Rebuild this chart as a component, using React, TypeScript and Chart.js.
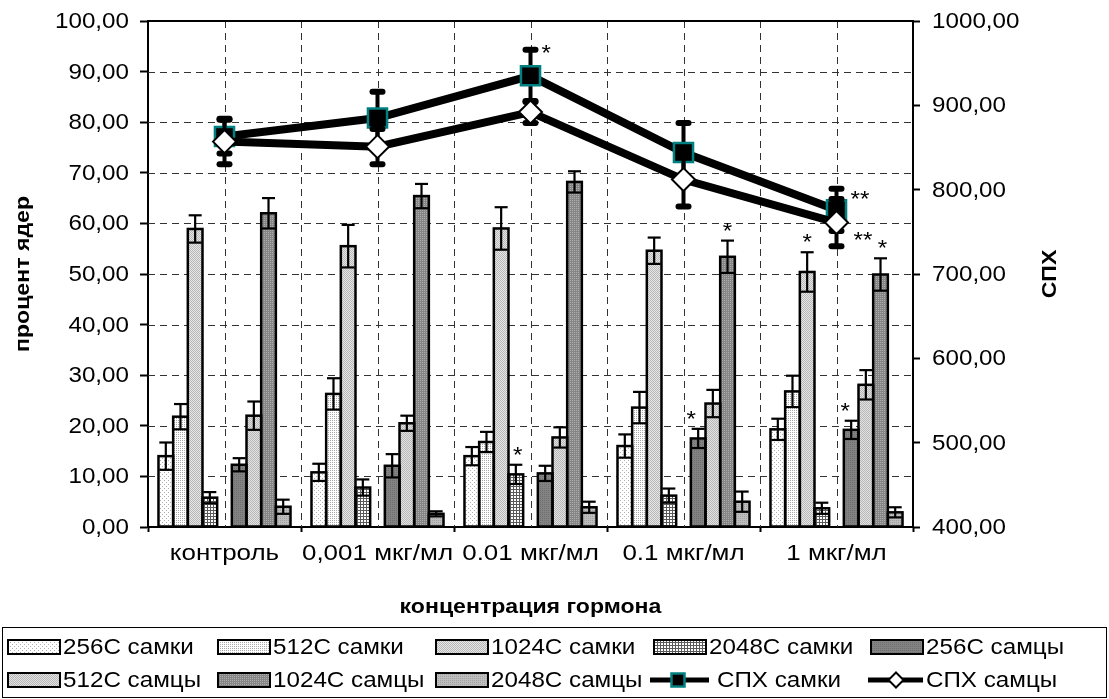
import React, { useEffect, useRef } from 'react';
import { Chart, registerables } from 'chart.js';

Chart.register(...registerables);

// ---------- data ----------
const categories = ['контроль', '0,001 мкг/мл', '0.01 мкг/мл', '0.1 мкг/мл', '1 мкг/мл'];

const barLabels = [
  '256C самки', '512C самки', '1024C самки', '2048C самки',
  '256C самцы', '512C самцы', '1024C самцы', '2048C самцы',
];

const f256 = [14.0, 10.8, 14.0, 16.0, 19.3];
const f256Err = [2.7, 1.7, 1.8, 2.3, 2.1];
const f512 = [21.8, 26.3, 16.8, 23.6, 26.8];
const f512Err = [2.5, 3.1, 2.0, 3.1, 3.1];
const f1024 = [58.9, 55.5, 59.0, 54.6, 50.4];
const f1024Err = [2.7, 4.2, 4.2, 2.6, 3.9];
const f2048 = [5.8, 7.8, 10.4, 6.2, 3.7];
const f2048Err = [1.1, 1.6, 1.9, 1.4, 1.1];
const m256 = [12.3, 12.1, 10.6, 17.5, 19.2];
const m256Err = [1.3, 2.3, 1.5, 1.9, 1.8];
const m512 = [22.0, 20.5, 17.7, 24.4, 28.1];
const m512Err = [2.8, 1.5, 2.0, 2.7, 2.9];
const m1024 = [62.0, 65.4, 68.2, 53.4, 49.9];
const m1024Err = [3.0, 2.4, 2.1, 3.2, 3.2];
const m2048 = [4.0, 2.6, 3.9, 5.0, 2.9];
const m2048Err = [1.4, 0.5, 1.1, 2.0, 1.0];

const lineLabels = ['СПХ самки', 'СПХ самцы'];
const sphF = [863, 885, 935, 844, 776];
const sphFErr = [20, 31, 31, 35, 25];
const sphM = [857, 851, 892, 812, 761];
const sphMErr = [27, 21, 13, 32, 28];

const leftTicks = [0, 10, 20, 30, 40, 50, 60, 70, 80, 90, 100];
const rightTicks = [400, 500, 600, 700, 800, 900, 1000];

const xTitle = 'концентрация гормона';
const yTitle = 'процент ядер';
const y1Title = 'СПХ';

// significance marks: bar series index / category index
const barStars = [
  { series: 3, cat: 2, text: '*', dx: 2 },
  { series: 4, cat: 3, text: '*', dx: -7 },
  { series: 6, cat: 3, text: '*', dx: 0 },
  { series: 2, cat: 4, text: '*', dx: 0 },
  { series: 4, cat: 4, text: '*', dx: -6 },
  { series: 6, cat: 4, text: '*', dx: 2 },
];
const lineStars = [
  { line: 0, cat: 2, text: '*', anchor: 'top', dx: 11, dy: -2 },
  { line: 0, cat: 4, text: '**', anchor: 'top', dx: 14, dy: 5 },
  { line: 1, cat: 4, text: '**', anchor: 'bottom', dx: 17, dy: -11 },
];

// ---------- styles ----------
const FONT = '"Liberation Sans", Arial, Helvetica, sans-serif';
const FS = 22;
const SX = 1.1;

const patternSpecs = [
  { bg: '#ffffff', fg: '#b0b0b0', size: 4, px: [[0, 0], [2, 2]] },
  { bg: '#ffffff', fg: '#a8a8a8', size: 2, px: [[0, 0]] },
  { bg: '#e6e6e6', fg: '#b8b8b8', size: 2, px: [[0, 0], [1, 1]] },
  { bg: '#ffffff', fg: '#5a5a5a', size: 3, px: [[0, 0], [1, 0], [2, 0], [0, 1], [0, 2]] },
  { bg: '#838383', fg: '#6e6e6e', size: 2, px: [[0, 0]] },
  { bg: '#e2e2e2', fg: '#b8b8b8', size: 2, px: [[0, 0], [1, 1]] },
  { bg: '#868686', fg: '#adadad', size: 2, px: [[0, 0]] },
  { bg: '#bdbdbd', fg: '#a2a2a2', size: 2, px: [[0, 0]] },
];

const barValues = [f256, f512, f1024, f2048, m256, m512, m1024, m2048];
const barErrors = [f256Err, f512Err, f1024Err, f2048Err, m256Err, m512Err, m1024Err, m2048Err];
const lineValues = [sphF, sphM];
const lineErrors = [sphFErr, sphMErr];

const dsIndexOfBar = (s: number) => (s < 4 ? s : s + 1);
const LINE_DS0 = 9;

function makePattern(ctx: CanvasRenderingContext2D, spec: any): CanvasPattern {
  const c = document.createElement('canvas');
  c.width = spec.size;
  c.height = spec.size;
  const g = c.getContext('2d')!;
  g.fillStyle = spec.bg;
  g.fillRect(0, 0, spec.size, spec.size);
  g.fillStyle = spec.fg;
  for (const [x, y] of spec.px) g.fillRect(x, y, 1, 1);
  return ctx.createPattern(c, 'repeat')!;
}

function drawText(
  ctx: CanvasRenderingContext2D,
  s: string,
  x: number,
  y: number,
  o: { align?: CanvasTextAlign; bold?: boolean; size?: number; rot?: number; baseline?: CanvasTextBaseline; sx?: number } = {}
) {
  ctx.save();
  ctx.translate(x, y);
  if (o.rot) ctx.rotate(o.rot);
  ctx.scale(o.sx ?? SX, 1);
  ctx.font = `${o.bold ? 'bold ' : ''}${o.size ?? FS}px ${FONT}`;
  ctx.textAlign = o.align ?? 'left';
  ctx.textBaseline = o.baseline ?? 'middle';
  ctx.fillStyle = '#000';
  ctx.fillText(s, 0, 0);
  ctx.restore();
}

function fmt(v: number) {
  return v.toFixed(2).replace('.', ',');
}

function line(ctx: CanvasRenderingContext2D, x1: number, y1: number, x2: number, y2: number) {
  ctx.beginPath();
  ctx.moveTo(x1, y1);
  ctx.lineTo(x2, y2);
  ctx.stroke();
}

function drawSquare(ctx: CanvasRenderingContext2D, x: number, y: number, half: number) {
  ctx.save();
  ctx.fillStyle = '#000';
  ctx.strokeStyle = '#008080';
  ctx.lineWidth = 2.5;
  ctx.fillRect(x - half, y - half, half * 2, half * 2);
  ctx.strokeRect(x - half, y - half, half * 2, half * 2);
  ctx.restore();
}

function drawDiamond(ctx: CanvasRenderingContext2D, x: number, y: number, r: number) {
  ctx.save();
  ctx.fillStyle = '#fff';
  ctx.strokeStyle = '#000';
  ctx.lineWidth = 2;
  ctx.beginPath();
  ctx.moveTo(x, y - r);
  ctx.lineTo(x + r, y);
  ctx.lineTo(x, y + r);
  ctx.lineTo(x - r, y);
  ctx.closePath();
  ctx.fill();
  ctx.stroke();
  ctx.restore();
}

export default function App() {
  const ref = useRef<HTMLCanvasElement>(null);

  useEffect(() => {
    const canvas = ref.current!;
    const c2d = canvas.getContext('2d')!;
    const pats = patternSpecs.map((p) => makePattern(c2d, p));

    const drawBarOverlay = (chart: any) => {
      const ctx: CanvasRenderingContext2D = chart.ctx;
      const yS = chart.scales.y;
      ctx.save();
      ctx.setLineDash([]);
      ctx.strokeStyle = '#000';
      ctx.lineWidth = 2.5;
      barValues.forEach((_, s) => {
        const meta = chart.getDatasetMeta(dsIndexOfBar(s));
        meta.data.forEach((el: any) => {
          const w = el.width;
          ctx.strokeRect(el.x - w / 2, el.y, w, el.base - el.y);
        });
      });
      ctx.lineWidth = 2.2;
      ctx.lineCap = 'butt';
      barValues.forEach((vals, s) => {
        const meta = chart.getDatasetMeta(dsIndexOfBar(s));
        meta.data.forEach((el: any, j: number) => {
          const hi = yS.getPixelForValue(vals[j] + barErrors[s][j]);
          const lo = yS.getPixelForValue(vals[j] - barErrors[s][j]);
          const x = el.x;
          line(ctx, x, hi, x, lo);
          line(ctx, x - 6.5, hi, x + 6.5, hi);
          line(ctx, x - 6.5, lo, x + 6.5, lo);
        });
      });
      ctx.restore();
    };

    const drawLineErr = (chart: any, li: number) => {
      const ctx: CanvasRenderingContext2D = chart.ctx;
      const yS = chart.scales.y1;
      const meta = chart.getDatasetMeta(LINE_DS0 + li);
      ctx.save();
      ctx.setLineDash([]);
      ctx.strokeStyle = '#000';
      ctx.lineCap = 'round';
      meta.data.forEach((el: any, j: number) => {
        const v = lineValues[li][j];
        const e = lineErrors[li][j];
        const hi = yS.getPixelForValue(v + e);
        const lo = yS.getPixelForValue(v - e);
        ctx.lineWidth = 4;
        line(ctx, el.x, hi, el.x, lo);
        ctx.lineWidth = 6;
        line(ctx, el.x - 5, hi, el.x + 5, hi);
        line(ctx, el.x - 5, lo, el.x + 5, lo);
      });
      ctx.restore();
    };

    const plugin = {
      id: 'custom',
      beforeDatasetsDraw(chart: any) {
        const { ctx, chartArea: ca, scales } = chart;
        ctx.save();
        ctx.strokeStyle = '#333';
        ctx.lineWidth = 1;
        ctx.setLineDash([7, 5]);
        leftTicks.forEach((t) => {
          if (t <= 0 || t >= 100) return;
          const y = Math.round(scales.y.getPixelForValue(t)) + 0.5;
          line(ctx, ca.left, y, ca.right, y);
        });
        const xs: number[] = [];
        categories.forEach((_, i) => {
          xs.push(scales.x.getPixelForValue(i));
          if (i < categories.length - 1)
            xs.push((scales.x.getPixelForValue(i) + scales.x.getPixelForValue(i + 1)) / 2);
        });
        xs.forEach((x) => {
          const xx = Math.round(x) + 0.5;
          line(ctx, xx, ca.top, xx, ca.bottom);
        });
        ctx.restore();
      },
      beforeDatasetDraw(chart: any, args: any) {
        if (args.index === LINE_DS0) {
          drawBarOverlay(chart);
          drawLineErr(chart, 0);
        } else if (args.index === LINE_DS0 + 1) {
          drawLineErr(chart, 1);
        }
      },
      afterDraw(chart: any) {
        const { ctx, chartArea: ca, scales } = chart;
        ctx.save();
        ctx.setLineDash([]);
        // top border of plot area
        ctx.strokeStyle = '#000';
        ctx.lineWidth = 2;
        line(ctx, ca.left - 1, ca.top, ca.right + 1, ca.top);

        // tick labels
        leftTicks.forEach((t) => drawText(ctx, fmt(t), 129, scales.y.getPixelForValue(t) + 1, { align: 'right' }));
        rightTicks.forEach((t) => drawText(ctx, fmt(t), 932, scales.y1.getPixelForValue(t) + 1, { align: 'left' }));
        categories.forEach((c, i) =>
          drawText(ctx, c, scales.x.getPixelForValue(i), 554, { align: 'center', sx: 1.18 })
        );

        // axis titles
        drawText(ctx, xTitle, (ca.left + ca.right) / 2, 607, { align: 'center', bold: true, size: 21 });
        drawText(ctx, yTitle, 23, (ca.top + ca.bottom) / 2, { align: 'center', bold: true, size: 21, rot: -Math.PI / 2 });
        drawText(ctx, y1Title, 1050, (ca.top + ca.bottom) / 2, { align: 'center', bold: true, size: 21, rot: -Math.PI / 2 });

        // stars on bars
        barStars.forEach((st) => {
          const el: any = chart.getDatasetMeta(dsIndexOfBar(st.series)).data[st.cat];
          const top = scales.y.getPixelForValue(barValues[st.series][st.cat] + barErrors[st.series][st.cat]);
          drawText(ctx, st.text, el.x + st.dx, top - 15 + 12, { align: 'center', baseline: 'alphabetic' });
        });
        // stars on lines
        lineStars.forEach((st) => {
          const el: any = chart.getDatasetMeta(LINE_DS0 + st.line).data[st.cat];
          const v = lineValues[st.line][st.cat];
          const e = lineErrors[st.line][st.cat];
          const ref = scales.y1.getPixelForValue(st.anchor === 'top' ? v + e : v - e);
          drawText(ctx, st.text, el.x + st.dx, ref + st.dy + 12, { align: 'left', baseline: 'alphabetic' });
        });

        // legend
        ctx.strokeStyle = '#000';
        ctx.lineWidth = 1;
        ctx.strokeRect(2.5, 627.5, 1104, 70);
        const cols = [8, 218, 436, 654, 871];
        const rows = [647, 680];
        const items = [...barLabels, ...lineLabels];
        items.forEach((label, k) => {
          const x = cols[k % 5];
          const y = rows[Math.floor(k / 5)];
          let tx = x + 55;
          if (k < 8) {
            ctx.fillStyle = pats[k];
            ctx.fillRect(x, y - 7, 52, 14);
            ctx.lineWidth = 2;
            ctx.strokeStyle = '#000';
            ctx.strokeRect(x, y - 7, 52, 14);
          } else if (k === 8) {
            ctx.strokeStyle = '#000';
            ctx.lineWidth = 5;
            line(ctx, x - 4, y, x + 55, y);
            drawSquare(ctx, x + 24, y, 6.5);
            tx = x + 63;
          } else {
            ctx.strokeStyle = '#000';
            ctx.lineWidth = 5;
            line(ctx, x - 3, y, x + 52, y);
            drawDiamond(ctx, x + 25, y, 7.5);
          }
          drawText(ctx, label, tx, y + 1, { align: 'left' });
        });
        ctx.restore();
      },
    };

    const datasets: any[] = [];
    barValues.forEach((vals, s) => {
      if (s === 4) {
        datasets.push({
          type: 'bar',
          label: '',
          data: categories.map(() => null),
          backgroundColor: 'rgba(0,0,0,0)',
          borderWidth: 0,
          yAxisID: 'y',
          order: 3,
          categoryPercentage: 0.863,
          barPercentage: 1.0,
        });
      }
      datasets.push({
        type: 'bar',
        label: barLabels[s],
        data: vals,
        backgroundColor: pats[s],
        borderWidth: 0,
        yAxisID: 'y',
        order: 3,
        categoryPercentage: 0.863,
        barPercentage: 1.0,
      });
    });
    datasets.push({
      type: 'line',
      label: lineLabels[0],
      data: sphF,
      yAxisID: 'y1',
      borderColor: '#000',
      borderWidth: 8,
      tension: 0,
      fill: false,
      pointStyle: 'rect',
      pointRadius: 13.5,
      pointBackgroundColor: '#000',
      pointBorderColor: '#008080',
      pointBorderWidth: 2.5,
      order: 2,
    });
    datasets.push({
      type: 'line',
      label: lineLabels[1],
      data: sphM,
      yAxisID: 'y1',
      borderColor: '#000',
      borderWidth: 8,
      tension: 0,
      fill: false,
      pointStyle: 'rectRot',
      pointRadius: 11.5,
      pointBackgroundColor: '#fff',
      pointBorderColor: '#000',
      pointBorderWidth: 2,
      order: 1,
    });

    const chart = new Chart(canvas, {
      type: 'bar',
      data: { labels: categories, datasets },
      options: {
        responsive: false,
        animation: false,
        events: [],
        layout: { padding: { left: 0, right: 0, top: 21, bottom: 0 } },
        plugins: { legend: { display: false }, tooltip: { enabled: false }, title: { display: false } },
        scales: {
          x: {
            type: 'category',
            offset: true,
            grid: { display: true, drawOnChartArea: false, drawTicks: true, tickLength: 5, tickColor: '#000', tickWidth: 2, offset: true },
            border: { display: true, color: '#000', width: 2 },
            ticks: { display: false },
            afterFit: (s: any) => { s.height = 172; },
          },
          y: {
            position: 'left',
            min: 0,
            max: 100,
            ticks: { display: false, stepSize: 10 },
            grid: { display: true, drawOnChartArea: false, drawTicks: true, tickLength: 8, tickColor: '#000', tickWidth: 2 },
            border: { display: true, color: '#000', width: 2 },
            afterFit: (s: any) => { s.width = 148; },
          },
          y1: {
            position: 'right',
            min: 400,
            max: 1000,
            ticks: { display: false, stepSize: 100 },
            grid: { display: true, drawOnChartArea: false, drawTicks: true, tickLength: 7, tickColor: '#000', tickWidth: 2 },
            border: { display: true, color: '#000', width: 2 },
            afterFit: (s: any) => { s.width = 196; },
          },
        },
      } as any,
      plugins: [plugin as any],
    });

    return () => chart.destroy();
  }, []);

  return (
    <div style={{ position: 'absolute', left: 0, top: 0, width: 1109, height: 699, background: '#fff' }}>
      <canvas ref={ref} width={1109} height={699} style={{ display: 'block', width: 1109, height: 699 }} />
    </div>
  );
}
